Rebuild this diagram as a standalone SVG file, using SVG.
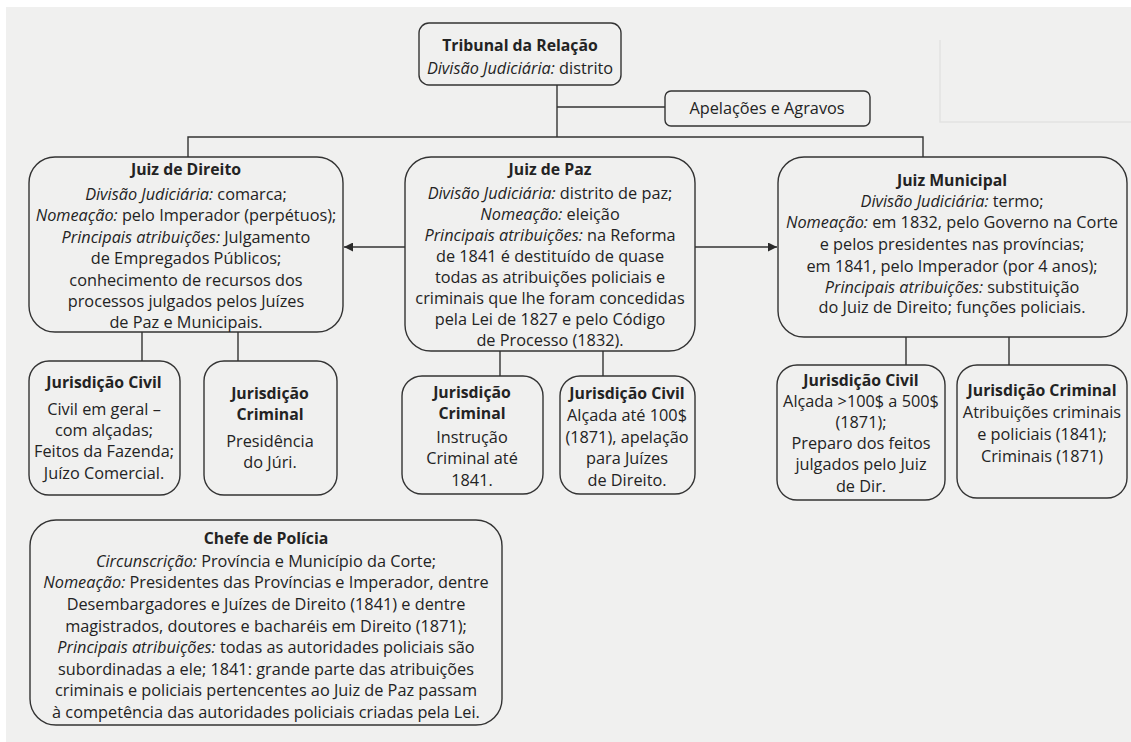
<svg xmlns="http://www.w3.org/2000/svg" width="1131" height="742" viewBox="0 0 1131 742">
<defs>
<marker id="arr" viewBox="0 0 10 10" refX="10" refY="5" markerWidth="10" markerHeight="9" markerUnits="userSpaceOnUse" orient="auto">
<path d="M0,0 L10,5 L0,10 z" fill="#2a2a2a"/>
</marker>
<style>
.box{fill:none;stroke:#333;stroke-width:1.4}
.ln{fill:none;stroke:#333;stroke-width:1.4}
text{font-family:"Open Sans","Noto Sans","Liberation Sans",sans-serif;font-size:16.3px;font-weight:500;fill:#232323;text-anchor:middle}
.t{font-weight:bold;font-size:15.8px}
.i{font-style:italic;font-weight:normal}
.faint{stroke:#e2e2e2;stroke-width:1.5;fill:none}
</style>
</defs>
<rect x="0" y="0" width="1131" height="742" fill="#ffffff"/>
<rect x="6" y="7" width="1125" height="735" fill="#f0f0ef"/>
<path class="faint" d="M940,40 V122 H1131"/>

<g id="connectors">
<path class="ln" d="M557,85 V137"/>
<path class="ln" d="M557,107 H665"/>
<path class="ln" d="M188,157 V137 H923 V157"/>
<path class="ln" d="M405,247 H344" marker-end="url(#arr)"/>
<path class="ln" d="M695,247 H777" marker-end="url(#arr)"/>
<path class="ln" d="M142,332 V361"/>
<path class="ln" d="M238,332 V361"/>
<path class="ln" d="M500,351 V376"/>
<path class="ln" d="M603,351 V376"/>
<path class="ln" d="M906,337 V365"/>
<path class="ln" d="M1009,337 V365"/>
</g>

<g id="tribunal">
<rect class="box" x="419" y="23" width="202" height="62" rx="10"/>
<text x="520" y="51" class="t">Tribunal da Relação</text>
<text x="520" y="74"><tspan class="i">Divisão Judiciária:</tspan> distrito</text>
</g>

<g id="apelacoes">
<rect class="box" x="665" y="91" width="205" height="35" rx="6"/>
<text x="767" y="114">Apelações e Agravos</text>
</g>

<g id="juiz-direito">
<rect class="box" x="29" y="157" width="314" height="175" rx="26"/>
<text x="186" y="175" class="t">Juiz de Direito</text>
<text x="186" y="200"><tspan class="i">Divisão Judiciária:</tspan> comarca;</text>
<text x="186" y="221"><tspan class="i">Nomeação:</tspan> pelo Imperador (perpétuos);</text>
<text x="186" y="243"><tspan class="i">Principais atribuições:</tspan> Julgamento</text>
<text x="186" y="264">de Empregados Públicos;</text>
<text x="186" y="286">conhecimento de recursos dos</text>
<text x="186" y="307">processos julgados pelos Juízes</text>
<text x="186" y="328">de Paz e Municipais.</text>
</g>

<g id="juiz-paz">
<rect class="box" x="405" y="157" width="290" height="194" rx="26"/>
<text x="550" y="175" class="t">Juiz de Paz</text>
<text x="550" y="199"><tspan class="i">Divisão Judiciária:</tspan> distrito de paz;</text>
<text x="550" y="220"><tspan class="i">Nomeação:</tspan> eleição</text>
<text x="550" y="241"><tspan class="i">Principais atribuições:</tspan> na Reforma</text>
<text x="550" y="262">de 1841 é destituído de quase</text>
<text x="550" y="283">todas as atribuições policiais e</text>
<text x="550" y="304">criminais que lhe foram concedidas</text>
<text x="550" y="325">pela Lei de 1827 e pelo Código</text>
<text x="550" y="346">de Processo (1832).</text>
</g>

<g id="juiz-municipal">
<rect class="box" x="778" y="157" width="349" height="180" rx="26"/>
<text x="952" y="186" class="t">Juiz Municipal</text>
<text x="952" y="207"><tspan class="i">Divisão Judiciária:</tspan> termo;</text>
<text x="952" y="228"><tspan class="i">Nomeação:</tspan> em 1832, pelo Governo na Corte</text>
<text x="952" y="250">e pelos presidentes nas províncias;</text>
<text x="952" y="272">em 1841, pelo Imperador (por 4 anos);</text>
<text x="952" y="293"><tspan class="i">Principais atribuições:</tspan> substituição</text>
<text x="952" y="313">do Juiz de Direito; funções policiais.</text>
</g>

<g id="jd-civil">
<rect class="box" x="29" y="361" width="151" height="134" rx="20"/>
<text x="104" y="388" class="t">Jurisdição Civil</text>
<text x="104" y="415">Civil em geral –</text>
<text x="104" y="436">com alçadas;</text>
<text x="104" y="457">Feitos da Fazenda;</text>
<text x="104" y="479">Juízo Comercial.</text>
</g>

<g id="jd-criminal">
<rect class="box" x="204" y="361" width="133" height="134" rx="20"/>
<text x="270" y="399" class="t">Jurisdição</text>
<text x="270" y="420" class="t">Criminal</text>
<text x="270" y="447">Presidência</text>
<text x="270" y="468">do Júri.</text>
</g>

<g id="jp-criminal">
<rect class="box" x="402" y="376" width="141" height="118" rx="20"/>
<text x="472" y="398" class="t">Jurisdição</text>
<text x="472" y="419" class="t">Criminal</text>
<text x="472" y="443">Instrução</text>
<text x="472" y="464">Criminal até</text>
<text x="472" y="486">1841.</text>
</g>

<g id="jp-civil">
<rect class="box" x="560" y="376" width="135" height="118" rx="20"/>
<text x="627" y="399" class="t">Jurisdição Civil</text>
<text x="627" y="421">Alçada até 100$</text>
<text x="627" y="443">(1871), apelação</text>
<text x="627" y="464">para Juízes</text>
<text x="627" y="486">de Direito.</text>
</g>

<g id="jm-civil">
<rect class="box" x="777" y="365" width="168" height="135" rx="20"/>
<text x="861" y="386" class="t">Jurisdição Civil</text>
<text x="861" y="407">Alçada &gt;100$ a 500$</text>
<text x="861" y="428">(1871);</text>
<text x="861" y="449">Preparo dos feitos</text>
<text x="861" y="470">julgados pelo Juiz</text>
<text x="861" y="492">de Dir.</text>
</g>

<g id="jm-criminal">
<rect class="box" x="957" y="365" width="170" height="133" rx="20"/>
<text x="1042" y="396" class="t">Jurisdição Criminal</text>
<text x="1042" y="418">Atribuições criminais</text>
<text x="1042" y="440">e policiais (1841);</text>
<text x="1042" y="462">Criminais (1871)</text>
</g>

<g id="chefe-policia">
<rect class="box" x="30" y="520" width="472" height="205" rx="26"/>
<text x="266" y="544" class="t">Chefe de Polícia</text>
<text x="266" y="567"><tspan class="i">Circunscrição:</tspan> Província e Município da Corte;</text>
<text x="266" y="588"><tspan class="i">Nomeação:</tspan> Presidentes das Províncias e Imperador, dentre</text>
<text x="266" y="610">Desembargadores e Juízes de Direito (1841) e dentre</text>
<text x="266" y="632">magistrados, doutores e bacharéis em Direito (1871);</text>
<text x="266" y="653"><tspan class="i">Principais atribuições:</tspan> todas as autoridades policiais são</text>
<text x="266" y="675">subordinadas a ele; 1841: grande parte das atribuições</text>
<text x="266" y="696">criminais e policiais pertencentes ao Juiz de Paz passam</text>
<text x="266" y="718">à competência das autoridades policiais criadas pela Lei.</text>
</g>
</svg>
